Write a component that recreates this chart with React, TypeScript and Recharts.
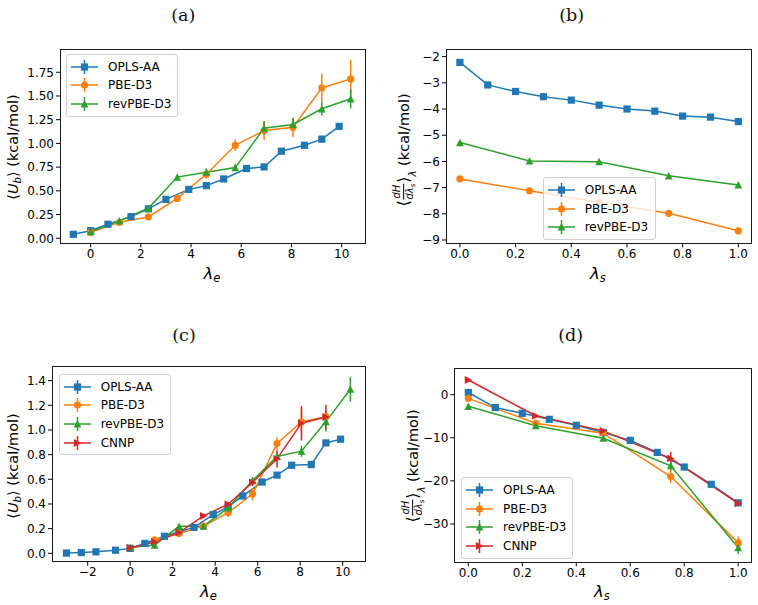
import React from 'react';
import { LineChart, Line, XAxis, YAxis, ErrorBar } from 'recharts';

const FONT = '"DejaVu Sans", "Noto Sans", sans-serif';
const SERIF = '"DejaVu Serif", "Liberation Serif", serif';

const BLUE = '#1f77b4';
const ORANGE = '#ff7f0e';
const GREEN = '#2ca02c';
const RED = '#d62728';

// ---- shared abscissae ----
const lnGridA = [-0.69, 0, 0.69, 1.61, 2.30, 3.00, 3.91, 4.61, 5.30, 6.21, 6.91, 7.60, 8.52, 9.21, 9.90];
const lnGridC = [-3.0, -2.30, -1.61, -0.69, 0, 0.69, 1.61, 2.30, 3.00, 3.91, 4.61, 5.30, 6.21, 6.91, 7.60, 8.52, 9.21, 9.90];
const halfLn10Grid = [0, 1.15, 2.30, 3.45, 4.61, 5.76, 6.91, 8.06, 9.21, 10.36];
const sGridFine = [0, 0.1, 0.2, 0.3, 0.4, 0.5, 0.6, 0.7, 0.8, 0.9, 1.0];
const sGridCoarse = [0, 0.25, 0.5, 0.75, 1.0];

// ---- panel (a): <U_b> vs lambda_e ----
const aOplsY = [0.042, 0.08, 0.148, 0.228, 0.31, 0.41, 0.515, 0.555, 0.625, 0.735, 0.752, 0.918, 0.98, 1.045, 1.18];
const aOplsErr = [0.01, 0.01, 0.01, 0.01, 0.015, 0.015, 0.015, 0.02, 0.02, 0.02, 0.03, 0.02, 0.025, 0.035, 0.025];
const aPbeY = [0.063, 0.168, 0.225, 0.42, 0.675, 0.98, 1.135, 1.17, 1.585, 1.68];
const aPbeErr = [0.01, 0.01, 0.015, 0.035, 0.045, 0.06, 0.1, 0.1, 0.15, 0.2];
const aRevY = [0.07, 0.183, 0.316, 0.645, 0.696, 0.745, 1.16, 1.2, 1.365, 1.47];
const aRevErr = [0.01, 0.01, 0.015, 0.02, 0.04, 0.03, 0.07, 0.07, 0.07, 0.1];

// ---- panel (b): <dH/dlambda_s> vs lambda_s ----
const bOplsY = [-2.22, -3.08, -3.33, -3.53, -3.66, -3.85, -4.0, -4.08, -4.27, -4.31, -4.48];
const bOplsErr = [0.05, 0.05, 0.05, 0.05, 0.05, 0.05, 0.05, 0.05, 0.05, 0.05, 0.05];
const bPbeY = [-6.67, -7.12, -7.56, -7.98, -8.65];
const bPbeErr = [0.05, 0.05, 0.05, 0.05, 0.08];
const bRevY = [-5.28, -5.98, -6.01, -6.55, -6.9];
const bRevErr = [0.05, 0.05, 0.05, 0.05, 0.05];

// ---- panel (c): <U_b> vs lambda_e, with CNNP ----
const cOplsY = [0.002, 0.006, 0.012, 0.025, 0.04, 0.08, 0.138, 0.175, 0.21, 0.314, 0.376, 0.465, 0.578, 0.634, 0.714, 0.72, 0.895, 0.925];
const cOplsErr = [0.005, 0.005, 0.005, 0.005, 0.008, 0.01, 0.01, 0.01, 0.01, 0.012, 0.012, 0.015, 0.015, 0.015, 0.015, 0.03, 0.02, 0.02];
const cPbeX = [1.15, 2.30, 3.45, 4.61, 5.76, 6.91, 8.06, 9.21];
const cPbeY = [0.11, 0.16, 0.22, 0.33, 0.48, 0.89, 1.065, 1.108];
const cPbeErr = [0.01, 0.015, 0.02, 0.035, 0.05, 0.05, 0.1, 0.05];
const cRevY = [0.047, 0.067, 0.219, 0.22, 0.368, 0.59, 0.785, 0.828, 1.068, 1.33];
const cRevErr = [0.01, 0.02, 0.015, 0.015, 0.02, 0.03, 0.03, 0.045, 0.08, 0.1];
const cCnnpX = [0, 1.15, 2.30, 3.45, 4.61, 5.76, 6.91, 8.06, 9.21];
const cCnnpY = [0.045, 0.092, 0.168, 0.303, 0.398, 0.575, 0.766, 1.055, 1.105];
const cCnnpErr = [0.01, 0.015, 0.015, 0.02, 0.02, 0.03, 0.07, 0.14, 0.1];

// ---- panel (d): <dH/dlambda_s> vs lambda_s, with CNNP ----
const dOplsY = [0.5, -3.0, -4.33, -5.72, -7.1, -8.8, -10.6, -13.4, -16.8, -20.8, -25.1];
const dOplsErr = [0.4, 0.4, 0.4, 0.4, 0.4, 0.4, 0.4, 0.4, 0.4, 0.4, 0.4];
const dPbeY = [-0.85, -6.65, -8.95, -19.0, -34.4];
const dPbeErr = [0.5, 0.5, 0.5, 1.5, 1.5];
const dRevY = [-2.7, -7.2, -10.1, -16.5, -35.5];
const dRevErr = [0.5, 0.5, 0.5, 1.0, 1.5];
const dCnnpY = [3.4, -4.9, -8.4, -14.8, -25.2];
const dCnnpErr = [0.5, 0.5, 0.5, 1.5, 0.5];

// ---- ticks ----
const aXTicks = [0, 2, 4, 6, 8, 10];
const aYTicks = [0, 0.25, 0.5, 0.75, 1.0, 1.25, 1.5, 1.75];
const bXTicks = [0, 0.2, 0.4, 0.6, 0.8, 1.0];
const bYTicks = [-9, -8, -7, -6, -5, -4, -3, -2];
const cXTicks = [-2, 0, 2, 4, 6, 8, 10];
const cYTicks = [0, 0.2, 0.4, 0.6, 0.8, 1.0, 1.2, 1.4];
const dXTicks = [0, 0.2, 0.4, 0.6, 0.8, 1.0];
const dYTicks = [-30, -20, -10, 0];

type Shape = 's' | 'o' | '^' | '>';
interface Series {
  name: string;
  color: string;
  shape: Shape;
  x: number[];
  y: number[];
  err: number[];
}

const mk = (name: string, color: string, shape: Shape, x: number[], y: number[], err: number[]): Series => ({
  name, color, shape, x, y, err,
});

const seriesA: Series[] = [
  mk('OPLS-AA', BLUE, 's', lnGridA, aOplsY, aOplsErr),
  mk('PBE-D3', ORANGE, 'o', halfLn10Grid, aPbeY, aPbeErr),
  mk('revPBE-D3', GREEN, '^', halfLn10Grid, aRevY, aRevErr),
];
const seriesB: Series[] = [
  mk('OPLS-AA', BLUE, 's', sGridFine, bOplsY, bOplsErr),
  mk('PBE-D3', ORANGE, 'o', sGridCoarse, bPbeY, bPbeErr),
  mk('revPBE-D3', GREEN, '^', sGridCoarse, bRevY, bRevErr),
];
const seriesC: Series[] = [
  mk('OPLS-AA', BLUE, 's', lnGridC, cOplsY, cOplsErr),
  mk('PBE-D3', ORANGE, 'o', cPbeX, cPbeY, cPbeErr),
  mk('revPBE-D3', GREEN, '^', halfLn10Grid, cRevY, cRevErr),
  mk('CNNP', RED, '>', cCnnpX, cCnnpY, cCnnpErr),
];
const seriesD: Series[] = [
  mk('OPLS-AA', BLUE, 's', sGridFine, dOplsY, dOplsErr),
  mk('PBE-D3', ORANGE, 'o', sGridCoarse, dPbeY, dPbeErr),
  mk('revPBE-D3', GREEN, '^', sGridCoarse, dRevY, dRevErr),
  mk('CNNP', RED, '>', sGridCoarse, dCnnpY, dCnnpErr),
];

const MS = 7.2;

function marker(shape: Shape, cx: number, cy: number, color: string, key?: string) {
  const h = MS / 2;
  switch (shape) {
    case 's':
      return <rect key={key} x={cx - h} y={cy - h} width={MS} height={MS} fill={color} />;
    case 'o':
      return <circle key={key} cx={cx} cy={cy} r={h} fill={color} />;
    case '^':
      return (
        <polygon key={key} points={`${cx},${cy - h - 0.3} ${cx - h - 0.3},${cy + h} ${cx + h + 0.3},${cy + h}`} fill={color} />
      );
    default:
      return (
        <polygon key={key} points={`${cx + h + 0.3},${cy} ${cx - h},${cy - h - 0.3} ${cx - h},${cy + h + 0.3}`} fill={color} />
      );
  }
}

const minus = (s: string) => s.replace('-', '\u2212');

interface PanelProps {
  left: number;
  top: number;
  width: number;
  height: number;
  x0: number;
  y0: number;
  x1: number;
  y1: number;
  xDomain: [number, number];
  yDomain: [number, number];
  xTicks: number[];
  yTicks: number[];
  xFmt: (v: number) => string;
  yFmt: (v: number) => string;
  series: Series[];
}

const XH = 30;
const tickStyle = { fill: '#000', fontSize: 12, fontFamily: FONT };

function Panel(p: PanelProps) {
  const margin = {
    top: p.y0 - p.top,
    left: 0,
    right: p.left + p.width - p.x1,
    bottom: p.top + p.height - p.y1 - XH,
  };
  return (
    <>
      <div style={{ position: 'absolute', left: p.left, top: p.top }}>
        <LineChart width={p.width} height={p.height} margin={margin}>
          <XAxis
            dataKey="x"
            type="number"
            domain={p.xDomain}
            allowDataOverflow
            ticks={p.xTicks}
            interval={0}
            tickFormatter={p.xFmt}
            tick={tickStyle}
            tickSize={4}
            tickMargin={2}
            tickLine={{ stroke: '#000', strokeWidth: 1 }}
            axisLine={false}
            height={XH}
          />
          <YAxis
            type="number"
            domain={p.yDomain}
            allowDataOverflow
            ticks={p.yTicks}
            interval={0}
            tickFormatter={p.yFmt}
            tick={tickStyle}
            tickSize={4}
            tickMargin={2}
            tickLine={{ stroke: '#000', strokeWidth: 1 }}
            axisLine={false}
            width={p.x0 - p.left}
          />
          {p.series.map((s) => (
            <Line
              key={s.name}
              data={s.x.map((x, i) => ({ x, y: s.y[i], e: s.err[i] }))}
              dataKey="y"
              stroke={s.color}
              strokeWidth={1.5}
              isAnimationActive={false}
              dot={(d: any) => marker(s.shape, d.cx, d.cy, s.color, `${s.name}-${d.index}`)}
              activeDot={false}
            >
              <ErrorBar dataKey="e" width={0} stroke={s.color} strokeWidth={1.5} direction="y" isAnimationActive={false} />
            </Line>
          ))}
        </LineChart>
      </div>
      <div
        style={{
          position: 'absolute',
          left: p.x0 - 0.5,
          top: p.y0 - 0.5,
          width: p.x1 - p.x0 + 1,
          height: p.y1 - p.y0 + 1,
          border: '1px solid #1a1a1a',
          boxSizing: 'border-box',
          pointerEvents: 'none',
        }}
      />
    </>
  );
}

function LegendBox({ left, top, width, items }: { left: number; top: number; width: number; items: Series[] }) {
  return (
    <div
      style={{
        position: 'absolute',
        left,
        top,
        width,
        padding: '2.5px 0',
        background: 'rgba(255,255,255,0.8)',
        border: '1px solid #d0d0d0',
        borderRadius: 3,
        boxSizing: 'border-box',
        fontFamily: FONT,
        fontSize: 12,
        color: '#000',
      }}
    >
      {items.map((s) => (
        <div key={s.name} style={{ display: 'flex', alignItems: 'center', height: 18.6 }}>
          <svg width={27} height={18} style={{ marginLeft: 4, marginRight: 10, flex: 'none' }}>
            <line x1={0} y1={9} x2={27} y2={9} stroke={s.color} strokeWidth={1.5} />
            <line x1={13.5} y1={2} x2={13.5} y2={16} stroke={s.color} strokeWidth={1.5} />
            {marker(s.shape, 13.5, 9, s.color)}
          </svg>
          <span style={{ whiteSpace: 'nowrap' }}>{s.name}</span>
        </div>
      ))}
    </div>
  );
}

function Title({ x, y, text }: { x: number; y: number; text: string }) {
  return (
    <div
      style={{
        position: 'absolute',
        left: x,
        top: y,
        transform: 'translate(-50%,-50%)',
        fontFamily: SERIF,
        fontSize: 17.5,
        color: '#111',
        whiteSpace: 'nowrap',
      }}
    >
      {text}
    </div>
  );
}

const subStyle: React.CSSProperties = {
  fontSize: '0.7em',
  verticalAlign: '-0.3em',
  lineHeight: 0,
  fontStyle: 'italic',
};

function XLabel({ x, y, sub }: { x: number; y: number; sub: string }) {
  return (
    <div
      style={{
        position: 'absolute',
        left: x,
        top: y,
        transform: 'translate(-50%,-50%)',
        fontFamily: FONT,
        fontSize: 16.5,
        color: '#000',
        whiteSpace: 'nowrap',
        lineHeight: 1,
      }}
    >
      <i>λ</i>
      <span style={subStyle}>{sub}</span>
    </div>
  );
}

const rotStyle = (x: number, y: number): React.CSSProperties => ({
  position: 'absolute',
  left: x,
  top: y,
  transform: 'translate(-50%,-50%) rotate(-90deg)',
  fontFamily: FONT,
  fontSize: 14.5,
  color: '#000',
  whiteSpace: 'nowrap',
  lineHeight: 1,
});

function YLabelU({ x, y }: { x: number; y: number }) {
  return (
    <div style={rotStyle(x, y)}>
      ⟨<i>U</i>
      <span style={subStyle}>b</span>⟩ (kcal/mol)
    </div>
  );
}

function YLabelDH({ x, y }: { x: number; y: number }) {
  return (
    <div style={{ ...rotStyle(x, y), display: 'flex', alignItems: 'center' }}>
      <span style={{ fontSize: '1.1em' }}>⟨</span>
      <span
        style={{
          display: 'inline-flex',
          flexDirection: 'column',
          alignItems: 'center',
          fontSize: '0.68em',
          lineHeight: 1.05,
          margin: '0 1px',
          fontStyle: 'italic',
        }}
      >
        <span style={{ borderBottom: '1px solid #000', padding: '0 1px 1px' }}>dH</span>
        <span style={{ paddingTop: 1 }}>
          dλ
          <span style={{ fontSize: '0.7em', verticalAlign: '-0.25em', lineHeight: 0 }}>s</span>
        </span>
      </span>
      <span style={{ fontSize: '1.1em' }}>⟩</span>
      <span style={{ fontSize: '0.7em', alignSelf: 'flex-end', marginBottom: -2, fontStyle: 'italic' }}>λ</span>
      <span>&nbsp;(kcal/mol)</span>
    </div>
  );
}

export default function App() {
  return (
    <div
      style={{
        position: 'absolute',
        left: 0,
        top: 0,
        width: 758,
        height: 605,
        background: '#fff',
        overflow: 'hidden',
      }}
    >
      <Panel
        left={0}
        top={0}
        width={380}
        height={300}
        x0={60}
        y0={49.3}
        x1={365}
        y1={243.3}
        xDomain={[-1.22, 10.93]}
        yDomain={[-0.053, 1.992]}
        xTicks={aXTicks}
        yTicks={aYTicks}
        xFmt={(v) => minus(String(v))}
        yFmt={(v) => v.toFixed(2)}
        series={seriesA}
      />
      <Panel
        left={380}
        top={0}
        width={378}
        height={300}
        x0={446}
        y0={49.3}
        x1={751.7}
        y1={243.3}
        xDomain={[-0.05, 1.048]}
        yDomain={[-9.126, -1.72]}
        xTicks={bXTicks}
        yTicks={bYTicks}
        xFmt={(v) => v.toFixed(1)}
        yFmt={(v) => minus(String(v))}
        series={seriesB}
      />
      <Panel
        left={0}
        top={300}
        width={380}
        height={305}
        x0={52}
        y0={366.7}
        x1={365}
        y1={561.7}
        xDomain={[-3.68, 11.05]}
        yDomain={[-0.068, 1.513]}
        xTicks={cXTicks}
        yTicks={cYTicks}
        xFmt={(v) => minus(String(v))}
        yFmt={(v) => v.toFixed(1)}
        series={seriesC}
      />
      <Panel
        left={380}
        top={300}
        width={378}
        height={305}
        x0={454.3}
        y0={368.3}
        x1={751.7}
        y1={562.3}
        xDomain={[-0.052, 1.05]}
        yDomain={[-38.9, 6.12]}
        xTicks={dXTicks}
        yTicks={dYTicks}
        xFmt={(v) => v.toFixed(1)}
        yFmt={(v) => minus(String(v))}
        series={seriesD}
      />

      <LegendBox left={66} top={54} width={112} items={seriesA} />
      <LegendBox left={542.7} top={177.3} width={113.3} items={seriesB} />
      <LegendBox left={58.7} top={374} width={112} items={seriesC} />
      <LegendBox left={461} top={477.3} width={111.7} items={seriesD} />

      <Title x={183.3} y={15} text="(a)" />
      <Title x={571.7} y={15} text="(b)" />
      <Title x={184} y={335} text="(c)" />
      <Title x={570.7} y={335} text="(d)" />

      <XLabel x={212} y={274} sub="e" />
      <XLabel x={598} y={274} sub="s" />
      <XLabel x={208.5} y={592} sub="e" />
      <XLabel x={602} y={592} sub="s" />

      <YLabelU x={13} y={146.5} />
      <YLabelDH x={404} y={150} />
      <YLabelU x={13.3} y={466} />
      <YLabelDH x={412.7} y={466} />
    </div>
  );
}
